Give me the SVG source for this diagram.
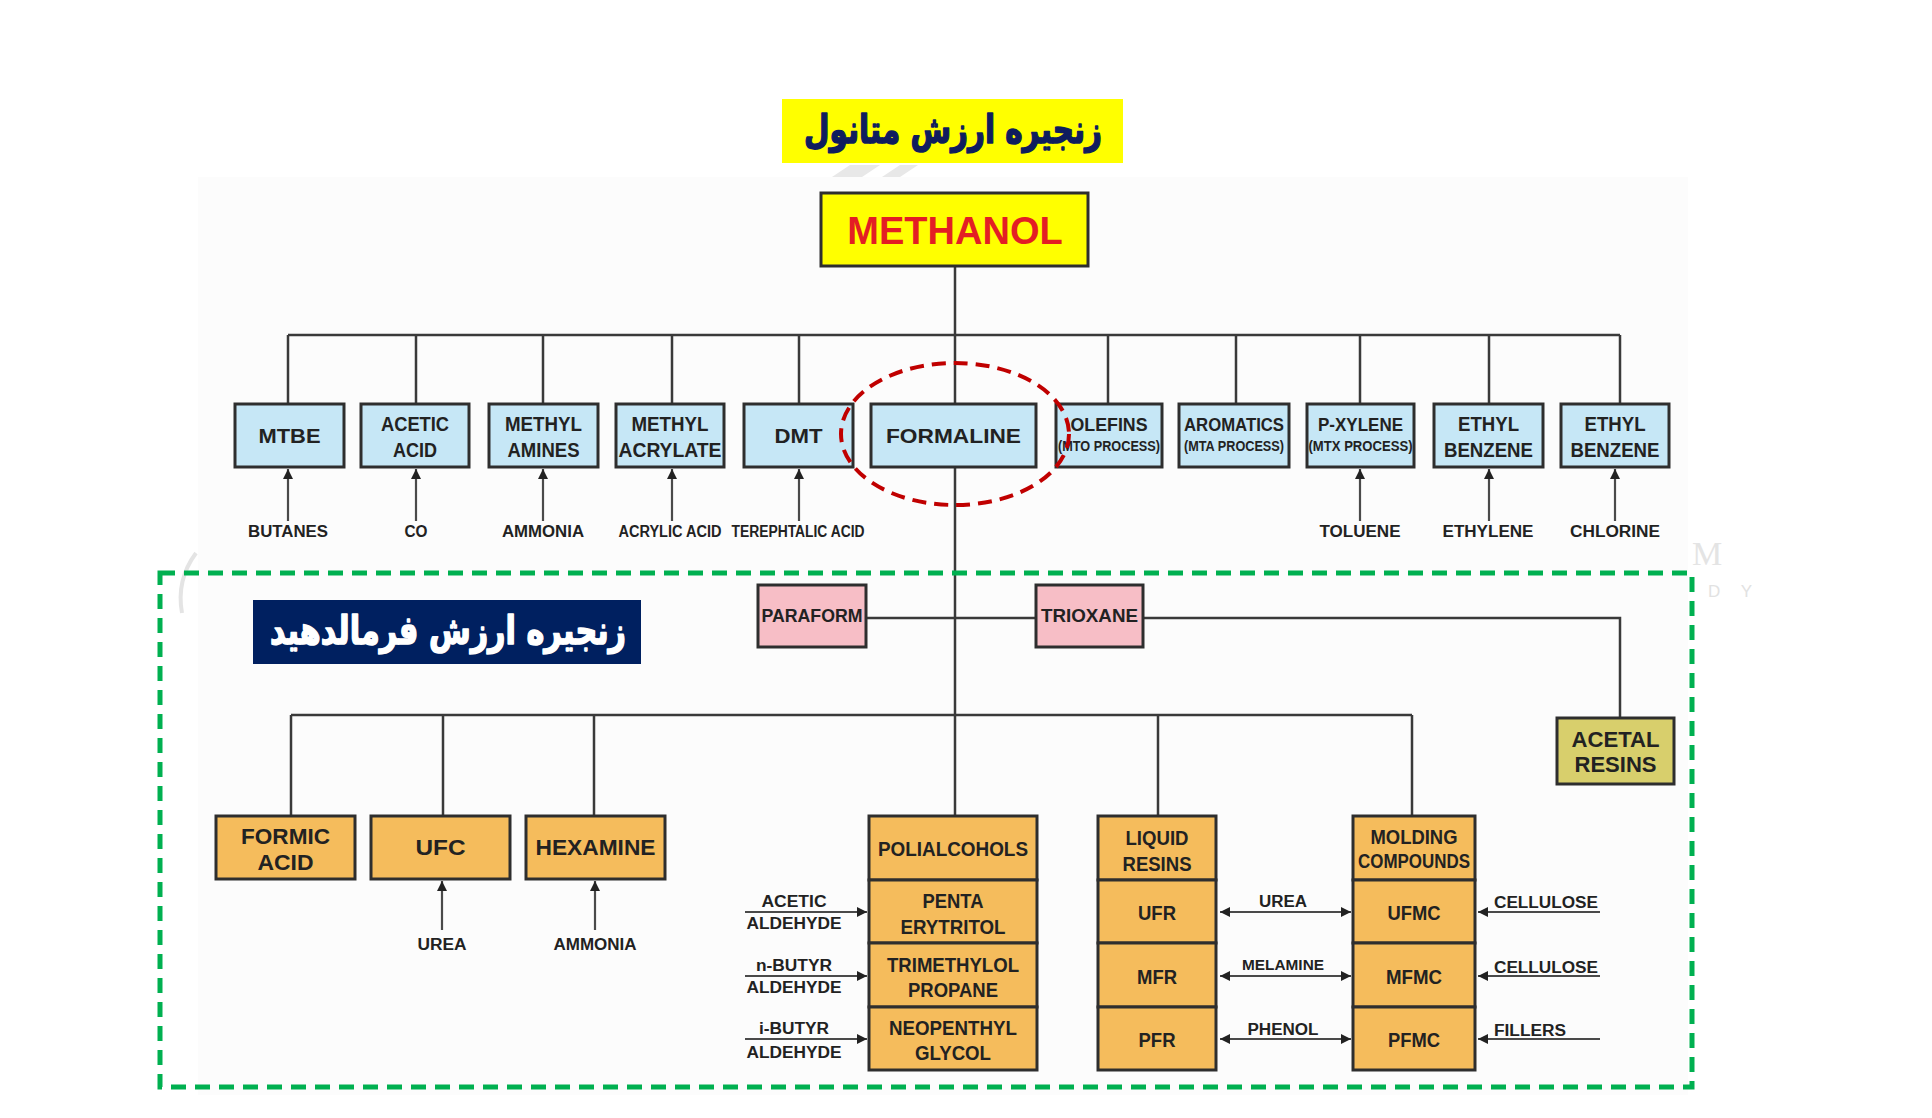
<svg xmlns="http://www.w3.org/2000/svg" width="1932" height="1118" viewBox="0 0 1932 1118">
<style>
.bx{stroke:#2e2e2e;stroke-width:3}
.bl{fill:#c6e7f6}
.or{fill:#f5bc5c}
.pk{fill:#f7bec6}
.kh{fill:#d8cf6c}
.t{font-family:"Liberation Sans",Arial,sans-serif;font-weight:bold;fill:#222;text-anchor:middle;dominant-baseline:central}
.s{font-size:16px}
.m{font-size:21px}
.c{fill:none;stroke:#3a3a3a;stroke-width:2.5}
.a{fill:none;stroke:#4a4a4a;stroke-width:2.2;marker-end:url(#ah)}
.d{fill:none;stroke:#4a4a4a;stroke-width:2.2;marker-start:url(#ah);marker-end:url(#ah)}
.fa{font-family:"DejaVu Sans","Noto Sans",sans-serif;font-weight:bold;text-anchor:middle;dominant-baseline:central;direction:rtl;stroke-width:1.6;stroke-linejoin:round}
</style>
<defs>
<marker id="ah" viewBox="0 0 10 10" refX="10" refY="5" markerWidth="11" markerHeight="10" markerUnits="userSpaceOnUse" orient="auto-start-reverse"><path d="M0,0 L10,5 L0,10 Z" fill="#222"/></marker>
</defs>
<rect width="1932" height="1118" fill="#ffffff"/>
<rect x="198" y="177" width="1490" height="918" fill="#fcfcfc"/>
<g id="watermark" fill="#e8e8e8">
<polygon points="832,177 850,165 880,165 862,177"/>
<polygon points="882,177 900,165 918,165 900,177"/>
<path d="M196,553 Q176,580 182,613" fill="none" stroke="#e4e4e4" stroke-width="4"/>
<text x="1692" y="565" font-family="Liberation Serif,serif" font-size="34" fill="#e4e4e4">M</text>
<text x="1708" y="591" font-family="Liberation Sans,sans-serif" font-size="17" fill="#e2e2e2" letter-spacing="8" dominant-baseline="central">D Y</text>
</g>

<g id="title-methanol-chain">
<rect x="782" y="99" width="341" height="64" fill="#ffff00"/>
<text class="fa" x="953" y="129" font-size="39" fill="#0f1d5e" stroke="#0f1d5e" textLength="298" lengthAdjust="spacingAndGlyphs">زنجیره ارزش متانول</text>
</g>

<g id="connectors">
<path class="c" d="M955,266 V816"/>
<path class="c" d="M288,335 H1620"/>
<path class="c" d="M288,335 V404 M416,335 V404 M543,335 V404 M672,335 V404 M799,335 V404 M1108,335 V404 M1236,335 V404 M1360,335 V404 M1489,335 V404 M1620,335 V404"/>
<path class="c" d="M866,618 H1036 M1143,618 H1620 V718"/>
<path class="c" d="M291,715 H1412 M291,715 V816 M443,715 V816 M594,715 V816 M1158,715 V816 M1412,715 V816"/>
<path class="a" d="M288,521 V469"/>
<path class="a" d="M416,521 V469"/>
<path class="a" d="M543,521 V469"/>
<path class="a" d="M672,521 V469"/>
<path class="a" d="M799,521 V469"/>
<path class="a" d="M1360,521 V469"/>
<path class="a" d="M1489,521 V469"/>
<path class="a" d="M1615,521 V469"/>
<path class="a" d="M442,930 V881"/>
<path class="a" d="M595,930 V881"/>
<path class="a" d="M745,912 H867"/>
<path class="a" d="M745,976 H867"/>
<path class="a" d="M745,1039 H867"/>
<path class="d" d="M1220,912 H1351"/>
<path class="d" d="M1220,976 H1351"/>
<path class="d" d="M1220,1039 H1351"/>
<path class="a" d="M1600,912 H1478"/>
<path class="a" d="M1600,976 H1478"/>
<path class="a" d="M1600,1039 H1478"/>
</g>

<g id="methanol">
<rect class="bx" x="821" y="193" width="267" height="73" fill="#ffff00"/>
<text class="t" x="955" y="231" font-size="38" style="fill:#e31e24">METHANOL</text>
</g>

<g id="mtbe"><rect class="bx bl" x="235" y="404" width="109" height="63"/><text class="t m" x="289.5" y="435.5" textLength="62" lengthAdjust="spacingAndGlyphs">MTBE</text></g>
<g id="acetic-acid"><rect class="bx bl" x="361" y="404" width="108" height="63"/><text class="t m" x="415" y="423" textLength="68" lengthAdjust="spacingAndGlyphs">ACETIC</text><text class="t m" x="415" y="449" textLength="44" lengthAdjust="spacingAndGlyphs">ACID</text></g>
<g id="methyl-amines"><rect class="bx bl" x="489" y="404" width="109" height="63"/><text class="t m" x="543.5" y="423" textLength="77" lengthAdjust="spacingAndGlyphs">METHYL</text><text class="t m" x="543.5" y="449" textLength="72" lengthAdjust="spacingAndGlyphs">AMINES</text></g>
<g id="methyl-acrylate"><rect class="bx bl" x="616" y="404" width="108" height="63"/><text class="t m" x="670" y="423" textLength="77" lengthAdjust="spacingAndGlyphs">METHYL</text><text class="t m" x="670" y="449" textLength="103" lengthAdjust="spacingAndGlyphs">ACRYLATE</text></g>
<g id="dmt"><rect class="bx bl" x="744" y="404" width="109" height="63"/><text class="t m" x="798.5" y="435.5" textLength="48" lengthAdjust="spacingAndGlyphs">DMT</text></g>
<g id="formaline"><rect class="bx bl" x="871" y="404" width="165" height="63"/><text class="t m" x="953.5" y="435.5" textLength="135" lengthAdjust="spacingAndGlyphs">FORMALINE</text></g>
<g id="olefins"><rect class="bx bl" x="1056" y="404" width="106" height="63"/><text class="t" x="1109" y="424" font-size="19" textLength="77" lengthAdjust="spacingAndGlyphs">OLEFINS</text><text class="t" x="1109" y="446" font-size="14" textLength="102" lengthAdjust="spacingAndGlyphs">(MTO PROCESS)</text></g>
<g id="aromatics"><rect class="bx bl" x="1179" y="404" width="110" height="63"/><text class="t" x="1234" y="424" font-size="19" textLength="100" lengthAdjust="spacingAndGlyphs">AROMATICS</text><text class="t" x="1234" y="446" font-size="14" textLength="100" lengthAdjust="spacingAndGlyphs">(MTA PROCESS)</text></g>
<g id="p-xylene"><rect class="bx bl" x="1307" y="404" width="107" height="63"/><text class="t" x="1360.5" y="424" font-size="19" textLength="85" lengthAdjust="spacingAndGlyphs">P-XYLENE</text><text class="t" x="1360.5" y="446" font-size="14" textLength="104" lengthAdjust="spacingAndGlyphs">(MTX PROCESS)</text></g>
<g id="ethyl-benzene-1"><rect class="bx bl" x="1434" y="404" width="109" height="63"/><text class="t m" x="1488.5" y="423" textLength="61" lengthAdjust="spacingAndGlyphs">ETHYL</text><text class="t m" x="1488.5" y="449" textLength="89" lengthAdjust="spacingAndGlyphs">BENZENE</text></g>
<g id="ethyl-benzene-2"><rect class="bx bl" x="1561" y="404" width="108" height="63"/><text class="t m" x="1615" y="423" textLength="61" lengthAdjust="spacingAndGlyphs">ETHYL</text><text class="t m" x="1615" y="449" textLength="89" lengthAdjust="spacingAndGlyphs">BENZENE</text></g>

<g id="feed-labels-top">
<text class="t s" x="288" y="531" textLength="80" lengthAdjust="spacingAndGlyphs">BUTANES</text>
<text class="t s" x="416" y="531" textLength="23" lengthAdjust="spacingAndGlyphs">CO</text>
<text class="t s" x="543" y="531" textLength="82" lengthAdjust="spacingAndGlyphs">AMMONIA</text>
<text class="t s" x="670" y="531" textLength="103" lengthAdjust="spacingAndGlyphs">ACRYLIC ACID</text>
<text class="t s" x="798" y="531" textLength="133" lengthAdjust="spacingAndGlyphs">TEREPHTALIC ACID</text>
<text class="t s" x="1360" y="531" textLength="81" lengthAdjust="spacingAndGlyphs">TOLUENE</text>
<text class="t s" x="1488" y="531" textLength="91" lengthAdjust="spacingAndGlyphs">ETHYLENE</text>
<text class="t s" x="1615" y="531" textLength="90" lengthAdjust="spacingAndGlyphs">CHLORINE</text>
</g>

<ellipse id="formaline-highlight" cx="955" cy="434" rx="114" ry="71" fill="none" stroke="#c00000" stroke-width="4" stroke-dasharray="14 8"/>

<rect id="formaldehyde-chain-frame" x="160" y="573" width="1532" height="514" fill="none" stroke="#00b050" stroke-width="5" stroke-dasharray="15 9"/>

<g id="title-formaldehyde-chain">
<rect x="253" y="600" width="388" height="64" fill="#002060"/>
<text class="fa" x="448" y="630" font-size="39" fill="#ffffff" stroke="#ffffff" textLength="356" lengthAdjust="spacingAndGlyphs">زنجیره ارزش فرمالدهید</text>
</g>

<g id="paraform"><rect class="bx pk" x="758" y="585" width="108" height="62"/><text class="t" x="812" y="615" font-size="19" textLength="101" lengthAdjust="spacingAndGlyphs">PARAFORM</text></g>
<g id="trioxane"><rect class="bx pk" x="1036" y="585" width="107" height="62"/><text class="t" x="1089.5" y="615" font-size="19" textLength="97" lengthAdjust="spacingAndGlyphs">TRIOXANE</text></g>
<g id="acetal-resins"><rect class="bx kh" x="1557" y="718" width="117" height="66"/><text class="t" x="1615.5" y="739" font-size="22" textLength="88" lengthAdjust="spacingAndGlyphs">ACETAL</text><text class="t" x="1615.5" y="764" font-size="22" textLength="82" lengthAdjust="spacingAndGlyphs">RESINS</text></g>

<g id="formic-acid"><rect class="bx or" x="216" y="816" width="139" height="63"/><text class="t" x="285.5" y="836" font-size="22" textLength="89" lengthAdjust="spacingAndGlyphs">FORMIC</text><text class="t" x="285.5" y="862" font-size="22" textLength="56" lengthAdjust="spacingAndGlyphs">ACID</text></g>
<g id="ufc"><rect class="bx or" x="371" y="816" width="139" height="63"/><text class="t" x="440.5" y="847" font-size="22" textLength="50" lengthAdjust="spacingAndGlyphs">UFC</text></g>
<g id="hexamine"><rect class="bx or" x="526" y="816" width="139" height="63"/><text class="t" x="595.5" y="847" font-size="22" textLength="120" lengthAdjust="spacingAndGlyphs">HEXAMINE</text></g>

<g id="polialcohols"><rect class="bx or" x="869" y="816" width="168" height="64"/><text class="t m" x="953" y="848" textLength="150" lengthAdjust="spacingAndGlyphs">POLIALCOHOLS</text></g>
<g id="penta-erytritol"><rect class="bx or" x="869" y="880" width="168" height="63"/><text class="t m" x="953" y="900" textLength="61" lengthAdjust="spacingAndGlyphs">PENTA</text><text class="t m" x="953" y="926" textLength="105" lengthAdjust="spacingAndGlyphs">ERYTRITOL</text></g>
<g id="trimethylol-propane"><rect class="bx or" x="869" y="943" width="168" height="64"/><text class="t m" x="953" y="964" textLength="132" lengthAdjust="spacingAndGlyphs">TRIMETHYLOL</text><text class="t m" x="953" y="989" textLength="90" lengthAdjust="spacingAndGlyphs">PROPANE</text></g>
<g id="neopenthyl-glycol"><rect class="bx or" x="869" y="1007" width="168" height="63"/><text class="t m" x="953" y="1027" textLength="128" lengthAdjust="spacingAndGlyphs">NEOPENTHYL</text><text class="t m" x="953" y="1052" textLength="76" lengthAdjust="spacingAndGlyphs">GLYCOL</text></g>

<g id="liquid-resins"><rect class="bx or" x="1098" y="816" width="118" height="64"/><text class="t m" x="1157" y="837" textLength="63" lengthAdjust="spacingAndGlyphs">LIQUID</text><text class="t m" x="1157" y="863" textLength="69" lengthAdjust="spacingAndGlyphs">RESINS</text></g>
<g id="ufr"><rect class="bx or" x="1098" y="880" width="118" height="63"/><text class="t m" x="1157" y="912" textLength="38" lengthAdjust="spacingAndGlyphs">UFR</text></g>
<g id="mfr"><rect class="bx or" x="1098" y="943" width="118" height="64"/><text class="t m" x="1157" y="976" textLength="40" lengthAdjust="spacingAndGlyphs">MFR</text></g>
<g id="pfr"><rect class="bx or" x="1098" y="1007" width="118" height="63"/><text class="t m" x="1157" y="1039" textLength="37" lengthAdjust="spacingAndGlyphs">PFR</text></g>

<g id="molding-compounds"><rect class="bx or" x="1353" y="816" width="122" height="64"/><text class="t" x="1414" y="836" font-size="21" textLength="87" lengthAdjust="spacingAndGlyphs">MOLDING</text><text class="t" x="1414" y="861" font-size="20" textLength="112" lengthAdjust="spacingAndGlyphs">COMPOUNDS</text></g>
<g id="ufmc"><rect class="bx or" x="1353" y="880" width="122" height="63"/><text class="t m" x="1414" y="912" textLength="53" lengthAdjust="spacingAndGlyphs">UFMC</text></g>
<g id="mfmc"><rect class="bx or" x="1353" y="943" width="122" height="64"/><text class="t m" x="1414" y="976" textLength="56" lengthAdjust="spacingAndGlyphs">MFMC</text></g>
<g id="pfmc"><rect class="bx or" x="1353" y="1007" width="122" height="63"/><text class="t m" x="1414" y="1039" textLength="52" lengthAdjust="spacingAndGlyphs">PFMC</text></g>

<g id="feed-labels-bottom">
<text class="t s" x="442" y="944" textLength="49" lengthAdjust="spacingAndGlyphs">UREA</text>
<text class="t s" x="595" y="944" textLength="83" lengthAdjust="spacingAndGlyphs">AMMONIA</text>
<text class="t s" x="794" y="901" textLength="65" lengthAdjust="spacingAndGlyphs">ACETIC</text>
<text class="t s" x="794" y="923" textLength="95" lengthAdjust="spacingAndGlyphs">ALDEHYDE</text>
<text class="t s" x="794" y="965" textLength="76" lengthAdjust="spacingAndGlyphs">n-BUTYR</text>
<text class="t s" x="794" y="987" textLength="95" lengthAdjust="spacingAndGlyphs">ALDEHYDE</text>
<text class="t s" x="794" y="1028" textLength="70" lengthAdjust="spacingAndGlyphs">i-BUTYR</text>
<text class="t s" x="794" y="1052" textLength="95" lengthAdjust="spacingAndGlyphs">ALDEHYDE</text>
<text class="t s" x="1283" y="901" textLength="48" lengthAdjust="spacingAndGlyphs">UREA</text>
<text class="t" x="1283" y="965" font-size="14" textLength="82" lengthAdjust="spacingAndGlyphs">MELAMINE</text>
<text class="t s" x="1283" y="1029" textLength="71" lengthAdjust="spacingAndGlyphs">PHENOL</text>
<text class="t s" x="1494" y="902" style="text-anchor:start" textLength="104" lengthAdjust="spacingAndGlyphs">CELLULOSE</text>
<text class="t s" x="1494" y="967" style="text-anchor:start" textLength="104" lengthAdjust="spacingAndGlyphs">CELLULOSE</text>
<text class="t s" x="1494" y="1030" style="text-anchor:start" textLength="72" lengthAdjust="spacingAndGlyphs">FILLERS</text>
</g>
</svg>
